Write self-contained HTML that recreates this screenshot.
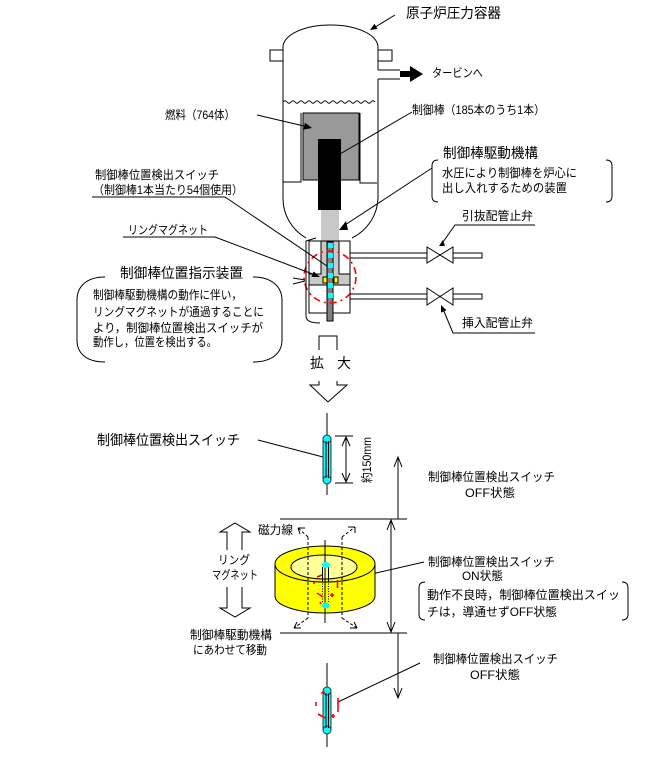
<!DOCTYPE html>
<html><head><meta charset="utf-8"><style>
html,body{margin:0;padding:0;background:#fff;}
svg{display:block;}
text{font-family:"Liberation Sans","Noto Sans CJK JP",sans-serif;fill:#000;dominant-baseline:central;}
</style></head><body>
<svg width="670" height="760" viewBox="0 0 670 760" xmlns="http://www.w3.org/2000/svg">
<rect width="670" height="760" fill="#fff"/>
<g fill="none" stroke="#000" stroke-width="1">
<!-- vessel -->
<path d="M283,47 A47.5,22 0 0 1 378,47"/>
<path d="M283,47 L283,198 A47,46 0 0 0 306,238"/>
<path d="M378,47 L378,70 M378,79 L378,198 A47,46 0 0 1 352,238"/>
<path d="M283,50 L270,50 L270,61 L283,61 M378,50 L392,50 L392,61 L378,61"/>
<path d="M378,70 L400,70 M378,79 L400,79"/>
<path d="M283,102 q2,-2.5 4,0 t4,0 t4,0 t4,0 t4,0 t4,0 t4,0 t4,0 t4,0 t4,0 t4,0 t4,0 t4,0 t4,0 t4,0 t4,0 t4,0 t4,0 t4,0 t4,0 t4,0 t4,0 t4,0"/>
<path d="M283,182 L301,182 L301,113 M377,183 L360,183 L360,113"/>
</g>
<rect x="400" y="71" width="10" height="6" fill="#000"/>
<polygon points="410,66 423,74 410,82" fill="#000"/>
<rect x="303" y="113" width="56" height="67" fill="#999" stroke="#000"/>
<rect x="318" y="139" width="23" height="71" fill="#000"/>
<rect x="321" y="210" width="18" height="31" fill="#c8c8c8"/>
<!-- housing -->
<rect x="309" y="241" width="41" height="72" fill="#fff" stroke="#000"/>
<polygon points="321,241 339,241 339,274 350,274 350,285 309,285 309,274 321,274" fill="#c8c8c8" stroke="#000"/>
<rect x="327" y="242" width="6" height="79" fill="#808080" stroke="#000"/>
<g fill="#00ffff">
<rect x="328" y="243" width="5" height="5"/><rect x="328" y="253" width="5" height="5"/>
<rect x="328" y="263" width="5" height="5"/><rect x="328" y="273" width="5" height="5"/>
<rect x="328" y="283" width="5" height="5"/><rect x="328" y="293" width="5" height="5"/>
</g>
<rect x="323" y="277" width="4" height="6" fill="#ffff00" stroke="#000"/>
<rect x="334" y="277" width="4" height="6" fill="#ffff00" stroke="#000"/>
<circle cx="330" cy="277" r="26" fill="none" stroke="#f00" stroke-width="1.6" stroke-dasharray="7 4 2 4"/>
<g fill="none" stroke="#000">
<path d="M316,238 L306,241 L306,316 Q306,323 320,323"/>
<path d="M293,278 L305,280 M293,284 L305,281"/>
<!-- pipes -->
<path d="M350,253 L427,253 M350,258 L427,258 M453,253 L482,253 L482,258 L453,258"/>
<path d="M350,294 L427,294 M350,299 L427,299 M453,294 L482,294 L482,299 L453,299"/>
</g>
<path d="M427,247 L453,263 L453,247 L427,263 Z" fill="#fff" stroke="#000"/>
<path d="M427,288 L453,305 L453,288 L427,305 Z" fill="#fff" stroke="#000"/>
<!-- leaders -->
<g fill="none" stroke="#000">
<path d="M395,15 L372,29"/>
<path d="M257,115 L306,126.5"/>
<path d="M412,112 L340,154"/>
<path d="M432,168 L345,225"/>
<path d="M92,197 L225,197 L327,266"/>
<path d="M123,237 L215,237 L314,274.5"/>
<path d="M535,225 L455,225 L443,242"/>
<path d="M535,333 L453,333 L443,309"/>
<!-- brackets -->
<path d="M438,160 Q432,160 432,166 L432,196 Q432,202 438,202"/>
<path d="M606,160 Q612,160 612,166 L612,196 Q612,202 606,202"/>
<path d="M105,277 C86,277 77,287 77,300 L77,340 C77,353 86,362 105,362"/>
<path d="M253,277 C272,277 282,287 282,300 L282,340 C282,353 272,362 253,362"/>
<!-- enlarge arrow -->
<path d="M319,350 L319,336 L337,336 L337,350"/>
<path d="M319,381 L319,385 L310,385 L328,402 L347,385 L337,385 L337,381"/>
</g>
<polygon points="370,30 377.5,29 374.5,23.8" fill="#000"/>
<polygon points="312,128 303.4,129.6 305,122.8" fill="#000"/>
<polygon points="339,230 348,230 346,221" fill="#000"/>
<polygon points="320,277 311.4,277 313.6,271.4" fill="#000"/>
<polygon points="439,246 445,246 443,240" fill="#000"/>
<polygon points="441,305 446.5,310.2 441,312.6" fill="#000"/>

<!-- lower section -->
<g fill="none" stroke="#000">
<path d="M327,413 L327,495"/>
<path d="M335,436 L353,436 M335,483 L353,483 M346,437 L346,482 M342,446 L346,437 L350,446 M342,473 L346,482 L350,473"/>
<path d="M398,457 L398,519 M394,467 L398,457 L402,467"/>
<path d="M280,519 L407,519 M280,633 L407,633"/>
<path d="M391,520 L391,632 M387,530 L391,520 L395,530 M387,622 L391,632 L395,622"/>
<path d="M398,633 L398,698 M394,688 L398,698 L402,688"/>
<path d="M258,440 L323,457"/>
<path d="M424,562 L337,582"/>
<path d="M420,663 L338,702"/>
<path d="M419+0,582" />
<path d="M425,582 Q419,582 419,588 L419,614 Q419,620 425,620"/>
<path d="M622,582 Q628,582 628,588 L628,614 Q628,620 622,620"/>
<!-- ring arrows -->
<path d="M227,550 L227,532 L220,532 L235,523 L250,532 L242,532 L242,550"/>
<path d="M227,587 L227,608 L220,608 L235,617 L250,608 L242,608 L242,587"/>
<path d="M327,663 L327,747"/>
</g>
<!-- upper switch -->
<rect x="323" y="437" width="8" height="45" rx="4" fill="#00ffff" stroke="#333"/>
<circle cx="327" cy="439" r="4" fill="#00ffff" stroke="#333"/>
<circle cx="327" cy="480" r="4" fill="#00ffff" stroke="#333"/>
<path d="M326,441 L326,478 M328.5,441 L328.5,478" stroke="#000" fill="none"/>
<!-- lower switch -->
<rect x="323" y="689" width="8" height="43" rx="4" fill="#00ffff" stroke="#333"/>
<circle cx="327" cy="691" r="4" fill="#00ffff" stroke="#333"/>
<circle cx="327" cy="730" r="4" fill="#00ffff" stroke="#333"/>
<path d="M326,693 L326,728 M328.5,693 L328.5,728" stroke="#000" fill="none"/>
<g stroke="#f00" stroke-width="1.6" fill="none">
<path d="M316,702 L316,706 M318,714 L325,718 M331,716 L335,716 M333,714 L333,718 M338,698 L338,712 M321,693 L325,692"/>
</g>
<!-- magnet -->
<path d="M275,564 L275,596 A50,17 0 0 0 375,596 L375,564 Z" fill="#ffff00" stroke="#000"/>
<ellipse cx="325" cy="564" rx="50" ry="18" fill="#ffff00" stroke="#000"/>
<ellipse cx="324" cy="567" rx="33" ry="12" fill="#ffff99" stroke="#000"/>
<g fill="none" stroke="#000">
<path d="M308,537 L308,618 M342,537 L342,618 M308,537 L298,528 M342,537 L355,527 M308,618 L294,628 M342,618 L357,628" stroke-dasharray="3 2"/>
<path d="M298,528 L305,528 M298,528 L300,534 M355,527 L348,527 M355,527 L355,533 M294,628 L301,628 M294,628 L297,622 M357,628 L350,628 M357,628 L354,622"/>
<path d="M325,540 L325,623"/>
<path d="M322.5,567 L322.5,581 M328.5,567 L328.5,581"/>
<path d="M322.5,581 L322.5,603 M328.5,581 L328.5,603" stroke-dasharray="1 1.5"/>
</g>
<ellipse cx="326" cy="565" rx="4" ry="3" fill="#00ffff"/>
<ellipse cx="326" cy="605.5" rx="4" ry="3" fill="#00ffff"/>
<g stroke="#f00" stroke-width="1.6" fill="none">
<path d="M317,577 L322,575 M314,582 L314,584 M337.5,580 L337.5,588 M317,593 L323,597 M330,595 L334,595 M332,593 L332,597 M320,602 L321,604"/>
</g>

<!-- texts -->
<text x="406" y="13" font-size="14" textLength="95" lengthAdjust="spacingAndGlyphs">原子炉圧力容器</text>
<text x="432" y="73" font-size="12" textLength="51" lengthAdjust="spacingAndGlyphs">タービンへ</text>
<text x="165" y="115" font-size="12" textLength="70" lengthAdjust="spacingAndGlyphs">燃料（764体）</text>
<text x="412" y="110" font-size="12" textLength="133" lengthAdjust="spacingAndGlyphs">制御棒（185本のうち1本）</text>
<text x="443" y="153" font-size="14" textLength="95" lengthAdjust="spacingAndGlyphs">制御棒駆動機構</text>
<text x="442" y="173" font-size="12" textLength="135" lengthAdjust="spacingAndGlyphs">水圧により制御棒を炉心に</text>
<text x="442" y="188" font-size="12" textLength="125" lengthAdjust="spacingAndGlyphs">出し入れするための装置</text>
<text x="462" y="216" font-size="12" textLength="71" lengthAdjust="spacingAndGlyphs">引抜配管止弁</text>
<text x="462" y="323" font-size="12" textLength="71" lengthAdjust="spacingAndGlyphs">挿入配管止弁</text>
<text x="95" y="175" font-size="12" textLength="124" lengthAdjust="spacingAndGlyphs">制御棒位置検出スイッチ</text>
<text x="93" y="190" font-size="12" textLength="150" lengthAdjust="spacingAndGlyphs">（制御棒1本当たり54個使用）</text>
<text x="128" y="230" font-size="12" textLength="80" lengthAdjust="spacingAndGlyphs">リングマグネット</text>
<text x="120" y="273" font-size="14" textLength="123" lengthAdjust="spacingAndGlyphs">制御棒位置指示装置</text>
<text x="93" y="295" font-size="12" textLength="149" lengthAdjust="spacingAndGlyphs">制御棒駆動機構の動作に伴い，</text>
<text x="93" y="312" font-size="12" textLength="171" lengthAdjust="spacingAndGlyphs">リングマグネットが通過することに</text>
<text x="93" y="328" font-size="12" textLength="170" lengthAdjust="spacingAndGlyphs">より，制御棒位置検出スイッチが</text>
<text x="93" y="342" font-size="12" textLength="124" lengthAdjust="spacingAndGlyphs">動作し，位置を検出する。</text>
<text x="310" y="363" font-size="14">拡</text>
<text x="337" y="363" font-size="14">大</text>
<text x="97" y="440" font-size="14" textLength="143" lengthAdjust="spacingAndGlyphs">制御棒位置検出スイッチ</text>
<text x="0" y="0" font-size="12" textLength="46" lengthAdjust="spacingAndGlyphs" transform="translate(367,483) rotate(-90)">約150mm</text>
<text x="428" y="477" font-size="12" textLength="127" lengthAdjust="spacingAndGlyphs">制御棒位置検出スイッチ</text>
<text x="465" y="493" font-size="12" textLength="50" lengthAdjust="spacingAndGlyphs">OFF状態</text>
<text x="258" y="530" font-size="12" textLength="35" lengthAdjust="spacingAndGlyphs">磁力線</text>
<text x="218" y="560" font-size="12" textLength="32" lengthAdjust="spacingAndGlyphs">リング</text>
<text x="212" y="575" font-size="12" textLength="46" lengthAdjust="spacingAndGlyphs">マグネット</text>
<text x="428" y="562" font-size="12" textLength="127" lengthAdjust="spacingAndGlyphs">制御棒位置検出スイッチ</text>
<text x="462" y="576" font-size="12" textLength="41" lengthAdjust="spacingAndGlyphs">ON状態</text>
<text x="427" y="595" font-size="12" textLength="193" lengthAdjust="spacingAndGlyphs">動作不良時，制御棒位置検出スイッ</text>
<text x="427" y="612" font-size="12" textLength="130" lengthAdjust="spacingAndGlyphs">チは，導通せずOFF状態</text>
<text x="190" y="635" font-size="12" textLength="82" lengthAdjust="spacingAndGlyphs">制御棒駆動機構</text>
<text x="193" y="650" font-size="12" textLength="74" lengthAdjust="spacingAndGlyphs">にあわせて移動</text>
<text x="433" y="659" font-size="12" textLength="125" lengthAdjust="spacingAndGlyphs">制御棒位置検出スイッチ</text>
<text x="470" y="675" font-size="12" textLength="50" lengthAdjust="spacingAndGlyphs">OFF状態</text>
</svg>
</body></html>
